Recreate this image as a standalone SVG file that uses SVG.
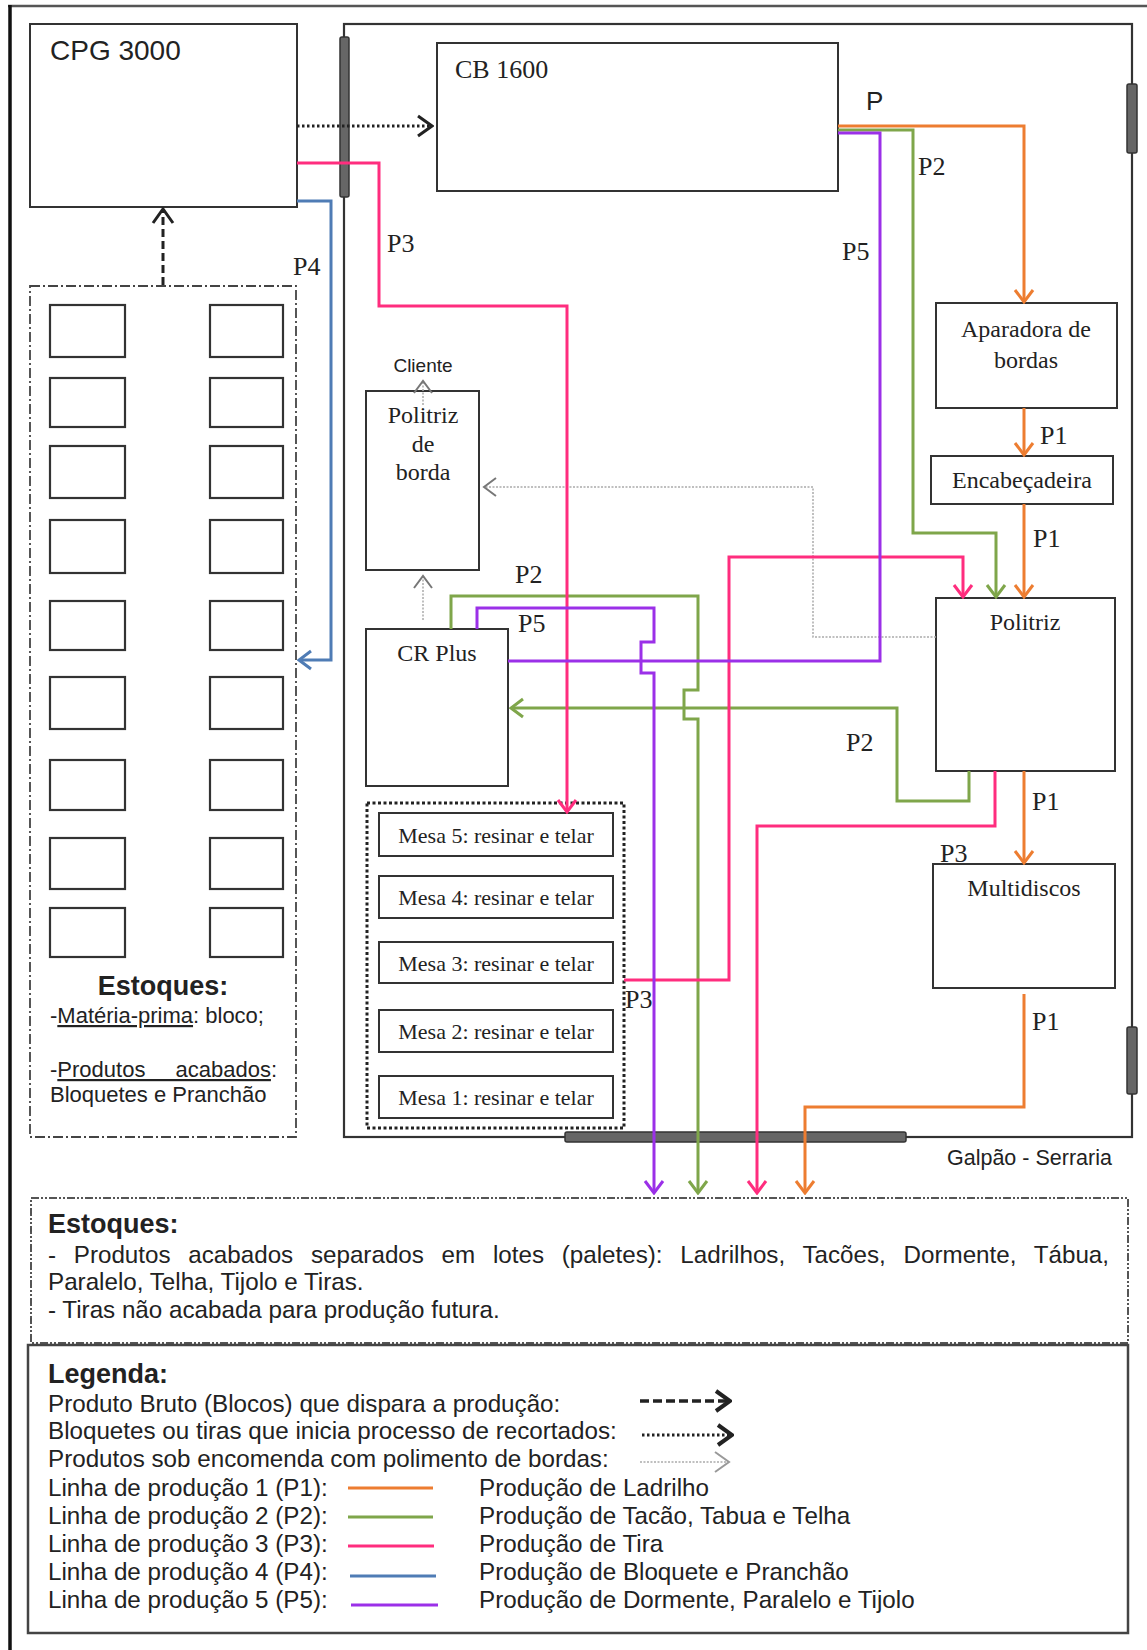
<svg xmlns="http://www.w3.org/2000/svg" width="1147" height="1650" viewBox="0 0 1147 1650">
<style>
.box{fill:#fff;stroke:#333;stroke-width:2}
.sm{fill:#fff;stroke:#333;stroke-width:2.2}
.serif{font-family:"Liberation Serif","Times New Roman",serif;fill:#222}
.sans{font-family:"Liberation Sans",Arial,sans-serif;fill:#222}
.nd{font-size:24px;text-anchor:middle}
.lbl{font-size:26px}
.mesa{font-size:22px;text-anchor:middle}
.leg{font-size:24.2px}
.ln{fill:none;stroke-width:3;stroke-linejoin:miter}
.o{stroke:#ED7D31}
.g{stroke:#7FA64A}
.p{stroke:#FF2D7E}
.b{stroke:#4F7CB5}
.v{stroke:#9B30E8}
.door{fill:#666;stroke:#333;stroke-width:1.5}
.frame{fill:none;stroke:#333;stroke-width:2.2}
</style>
<defs>
<marker id="aO" markerUnits="userSpaceOnUse" viewBox="0 0 16 22" markerWidth="16" markerHeight="22" refX="14" refY="11" orient="auto"><path d="M2,2 L14,11 L2,20" fill="none" stroke="#ED7D31" stroke-width="3"/></marker>
<marker id="aG" markerUnits="userSpaceOnUse" viewBox="0 0 16 22" markerWidth="16" markerHeight="22" refX="14" refY="11" orient="auto"><path d="M2,2 L14,11 L2,20" fill="none" stroke="#7FA64A" stroke-width="3"/></marker>
<marker id="aP" markerUnits="userSpaceOnUse" viewBox="0 0 16 22" markerWidth="16" markerHeight="22" refX="14" refY="11" orient="auto"><path d="M2,2 L14,11 L2,20" fill="none" stroke="#FF2D7E" stroke-width="3"/></marker>
<marker id="aB" markerUnits="userSpaceOnUse" viewBox="0 0 16 22" markerWidth="16" markerHeight="22" refX="14" refY="11" orient="auto"><path d="M2,2 L14,11 L2,20" fill="none" stroke="#4F7CB5" stroke-width="3"/></marker>
<marker id="aV" markerUnits="userSpaceOnUse" viewBox="0 0 16 22" markerWidth="16" markerHeight="22" refX="14" refY="11" orient="auto"><path d="M2,2 L14,11 L2,20" fill="none" stroke="#9B30E8" stroke-width="3"/></marker>
<marker id="aK" markerUnits="userSpaceOnUse" viewBox="0 0 18 24" markerWidth="18" markerHeight="24" refX="16" refY="12" orient="auto"><path d="M2,2 L16,12 L2,22" fill="none" stroke="#222" stroke-width="3"/></marker>
<marker id="aL" markerUnits="userSpaceOnUse" viewBox="0 0 16 22" markerWidth="16" markerHeight="22" refX="14" refY="11" orient="auto"><path d="M2,2 L14,11 L2,20" fill="none" stroke="#777" stroke-width="2"/></marker>
<marker id="aKs" markerUnits="userSpaceOnUse" viewBox="0 0 18 24" markerWidth="18" markerHeight="24" refX="16" refY="12" orient="auto"><path d="M2,2 L16,12 L2,22" fill="none" stroke="#222" stroke-width="4"/></marker>
<marker id="aLs" markerUnits="userSpaceOnUse" viewBox="0 0 18 24" markerWidth="18" markerHeight="24" refX="16" refY="12" orient="auto"><path d="M2,2 L16,12 L2,22" fill="none" stroke="#999" stroke-width="2"/></marker>
</defs>
<rect width="1147" height="1650" fill="#fff"/>

<g id="outer-frame">
<line x1="8" y1="6" x2="1147" y2="6" stroke="#555" stroke-width="2.5"/>
<line x1="10" y1="5" x2="10" y2="1650" stroke="#111" stroke-width="3.5"/>
</g>

<g id="galpao">
<rect x="344" y="24" width="788" height="1113" class="frame"/>
<rect x="340" y="37" width="9" height="160" rx="2" class="door"/>
<rect x="1127" y="84" width="10" height="69" rx="2" class="door"/>
<rect x="1127" y="1027" width="10" height="67" rx="2" class="door"/>
<rect x="565" y="1132" width="341" height="10" rx="2" class="door"/>
<text x="947" y="1165" class="sans" font-size="21.5">Galpão - Serraria</text>
</g>

<g id="cpg3000">
<rect x="30" y="24" width="267" height="183" class="box"/>
<text x="50" y="60" class="sans" font-size="28">CPG 3000</text>
</g>

<g id="cb1600">
<rect x="437" y="43" width="401" height="148" class="box"/>
<text x="455" y="78" class="serif" font-size="26">CB 1600</text>
</g>

<g id="aparadora">
<rect x="936" y="303" width="181" height="105" class="box"/>
<text x="1026" y="337" class="serif nd">Aparadora de</text>
<text x="1026" y="368" class="serif nd">bordas</text>
</g>

<g id="encabecadeira">
<rect x="931" y="456" width="182" height="48" class="box"/>
<text x="1022" y="488" class="serif nd">Encabeçadeira</text>
</g>

<g id="politriz">
<rect x="936" y="598" width="179" height="173" class="box"/>
<text x="1025" y="630" class="serif nd">Politriz</text>
</g>

<g id="multidiscos">
<rect x="933" y="864" width="182" height="124" class="box"/>
<text x="1024" y="896" class="serif nd">Multidiscos</text>
</g>

<g id="politriz-borda">
<rect x="366" y="391" width="113" height="179" class="box"/>
<text x="423" y="423" class="serif nd">Politriz</text>
<text x="423" y="452" class="serif nd">de</text>
<text x="423" y="480" class="serif nd">borda</text>
</g>

<g id="cliente">
<text x="423" y="372" class="sans" font-size="19" text-anchor="middle">Cliente</text>
</g>

<g id="crplus">
<rect x="366" y="629" width="142" height="157" class="box"/>
<text x="437" y="661" class="serif nd">CR Plus</text>
</g>

<g id="mesas">
<rect x="367" y="803" width="257" height="325" fill="none" stroke="#222" stroke-width="3" stroke-dasharray="3 2.5"/>
<rect x="379" y="813" width="234" height="43" class="box"/>
<text x="496" y="843" class="serif mesa">Mesa 5: resinar e telar</text>
<rect x="379" y="876" width="234" height="42" class="box"/>
<text x="496" y="905" class="serif mesa">Mesa 4: resinar e telar</text>
<rect x="379" y="942" width="234" height="41" class="box"/>
<text x="496" y="971" class="serif mesa">Mesa 3: resinar e telar</text>
<rect x="379" y="1010" width="234" height="42" class="box"/>
<text x="496" y="1039" class="serif mesa">Mesa 2: resinar e telar</text>
<rect x="379" y="1076" width="234" height="42" class="box"/>
<text x="496" y="1105" class="serif mesa">Mesa 1: resinar e telar</text>
</g>

<g id="estoque-materia-prima">
<rect x="30" y="286" width="266" height="851" fill="none" stroke="#444" stroke-width="1.8" stroke-dasharray="10 3 2 3"/>
<rect x="50" y="305" width="75" height="52" class="sm"/><rect x="210" y="305" width="73" height="52" class="sm"/>
<rect x="50" y="378" width="75" height="49" class="sm"/><rect x="210" y="378" width="73" height="49" class="sm"/>
<rect x="50" y="446" width="75" height="52" class="sm"/><rect x="210" y="446" width="73" height="52" class="sm"/>
<rect x="50" y="520" width="75" height="53" class="sm"/><rect x="210" y="520" width="73" height="53" class="sm"/>
<rect x="50" y="601" width="75" height="49" class="sm"/><rect x="210" y="601" width="73" height="49" class="sm"/>
<rect x="50" y="677" width="75" height="52" class="sm"/><rect x="210" y="677" width="73" height="52" class="sm"/>
<rect x="50" y="760" width="75" height="50" class="sm"/><rect x="210" y="760" width="73" height="50" class="sm"/>
<rect x="50" y="838" width="75" height="51" class="sm"/><rect x="210" y="838" width="73" height="51" class="sm"/>
<rect x="50" y="908" width="75" height="49" class="sm"/><rect x="210" y="908" width="73" height="49" class="sm"/>
<text x="163" y="995" class="sans" font-size="27" font-weight="bold" text-anchor="middle">Estoques:</text>
<text x="50" y="1023" class="sans" font-size="22">-<tspan text-decoration="underline">Matéria-prima</tspan>: bloco;</text>
<text x="50" y="1077" class="sans" font-size="22" word-spacing="24">-<tspan text-decoration="underline">Produtos acabados</tspan>:</text>
<text x="50" y="1102" class="sans" font-size="22">Bloquetes e Pranchão</text>
</g>

<g id="estoque-produtos">
<rect x="31" y="1198" width="1097" height="145" fill="none" stroke="#555" stroke-width="2" stroke-dasharray="8 2 2 2 2 2"/>
<text x="48" y="1233" class="sans" font-size="27" font-weight="bold">Estoques:</text>
<text x="48" y="1263" class="sans leg" word-spacing="11">- Produtos acabados separados em lotes (paletes): Ladrilhos, Tacões, Dormente, Tábua,</text>
<text x="48" y="1290" class="sans leg">Paralelo, Telha, Tijolo e Tiras.</text>
<text x="48" y="1318" class="sans leg">- Tiras não acabada para produção futura.</text>
</g>

<g id="legenda">
<rect x="28" y="1345" width="1100" height="288" fill="none" stroke="#444" stroke-width="2.5"/>
<text x="48" y="1383" class="sans" font-size="27" font-weight="bold">Legenda:</text>
<text x="48" y="1412" class="sans leg">Produto Bruto (Blocos) que dispara a produção:</text>
<text x="48" y="1439" class="sans leg">Bloquetes ou tiras que inicia processo de recortados:</text>
<text x="48" y="1467" class="sans leg">Produtos sob encomenda com polimento de bordas:</text>
<text x="48" y="1496" class="sans leg">Linha de produção 1 (P1):</text>
<text x="48" y="1524" class="sans leg">Linha de produção 2 (P2):</text>
<text x="48" y="1552" class="sans leg">Linha de produção 3 (P3):</text>
<text x="48" y="1580" class="sans leg">Linha de produção 4 (P4):</text>
<text x="48" y="1608" class="sans leg">Linha de produção 5 (P5):</text>
<text x="479" y="1496" class="sans leg">Produção de Ladrilho</text>
<text x="479" y="1524" class="sans leg">Produção de Tacão, Tabua e Telha</text>
<text x="479" y="1552" class="sans leg">Produção de Tira</text>
<text x="479" y="1580" class="sans leg">Produção de Bloquete e Pranchão</text>
<text x="479" y="1608" class="sans leg">Produção de Dormente, Paralelo e Tijolo</text>
<line x1="640" y1="1401" x2="730" y2="1401" stroke="#222" stroke-width="3.5" stroke-dasharray="9 4" marker-end="url(#aKs)"/>
<line x1="642" y1="1435" x2="732" y2="1435" stroke="#222" stroke-width="3" stroke-dasharray="2.5 2.5" marker-end="url(#aKs)"/>
<line x1="640" y1="1462" x2="729" y2="1462" stroke="#aaa" stroke-width="1.5" stroke-dasharray="2 1.5" marker-end="url(#aLs)"/>
<line x1="348" y1="1488" x2="433" y2="1488" class="ln o"/>
<line x1="348" y1="1517" x2="433" y2="1517" class="ln g"/>
<line x1="348" y1="1546" x2="434" y2="1546" class="ln p"/>
<line x1="350" y1="1576" x2="436" y2="1576" class="ln b"/>
<line x1="351" y1="1605" x2="438" y2="1605" class="ln v"/>
</g>

<g id="connectors">
<line x1="163" y1="285" x2="163" y2="209" stroke="#222" stroke-width="3" stroke-dasharray="8 4" marker-end="url(#aK)"/>
<line x1="297" y1="126" x2="432" y2="126" stroke="#222" stroke-width="3" stroke-dasharray="2.5 2.5" marker-end="url(#aK)"/>
<polyline points="936,637 813,637 813,487 484,487" fill="none" stroke="#aaa" stroke-width="1.5" stroke-dasharray="2 1.5" marker-end="url(#aL)"/>
<line x1="423" y1="620" x2="423" y2="576" stroke="#aaa" stroke-width="1.5" stroke-dasharray="2 1.5" marker-end="url(#aL)"/>
<line x1="423" y1="405" x2="423" y2="381" stroke="#aaa" stroke-width="1.5" stroke-dasharray="2 1.5" marker-end="url(#aL)"/>
<polyline points="838,126 1024,126 1024,302" class="ln o" marker-end="url(#aO)"/>
<line x1="1024" y1="408" x2="1024" y2="455" class="ln o" marker-end="url(#aO)"/>
<line x1="1024" y1="504" x2="1024" y2="597" class="ln o" marker-end="url(#aO)"/>
<line x1="1024" y1="771" x2="1024" y2="863" class="ln o" marker-end="url(#aO)"/>
<polyline points="1024,994 1024,1107 805,1107 805,1193" class="ln o" marker-end="url(#aO)"/>
<polyline points="838,130 913,130 913,533 996,533 996,597" class="ln g" marker-end="url(#aG)"/>
<polyline points="969,771 969,801 897,801 897,708 511,708" class="ln g" marker-end="url(#aG)"/>
<polyline points="451,629 451,596 698,596 698,690 684,690 684,719 698,719 698,1193" class="ln g" marker-end="url(#aG)"/>
<polyline points="297,163 379,163 379,306 567,306 567,812" class="ln p" marker-end="url(#aP)"/>
<polyline points="624,980 729,980 729,557 963,557 963,597" class="ln p" marker-end="url(#aP)"/>
<polyline points="995,771 995,826 757,826 757,1193" class="ln p" marker-end="url(#aP)"/>
<polyline points="297,201 331,201 331,660 299,660" class="ln b" marker-end="url(#aB)"/>
<polyline points="838,133 880,133 880,661 508,661" class="ln v"/>
<polyline points="477,629 477,608 654,608 654,642 641,642 641,673 654,673 654,1193" class="ln v" marker-end="url(#aV)"/>
</g>

<g id="labels">
<text x="866" y="110" class="sans lbl">P</text>
<text x="918" y="175" class="serif lbl">P2</text>
<text x="842" y="260" class="serif lbl">P5</text>
<text x="387" y="252" class="serif lbl">P3</text>
<text x="293" y="275" class="serif lbl">P4</text>
<text x="1040" y="444" class="serif lbl">P1</text>
<text x="1033" y="547" class="serif lbl">P1</text>
<text x="515" y="583" class="serif lbl">P2</text>
<text x="518" y="632" class="serif lbl">P5</text>
<text x="846" y="751" class="serif lbl">P2</text>
<text x="1032" y="810" class="serif lbl">P1</text>
<text x="940" y="862" class="serif lbl">P3</text>
<text x="625" y="1008" class="serif lbl">P3</text>
<text x="1032" y="1030" class="serif lbl">P1</text>
</g>
</svg>
